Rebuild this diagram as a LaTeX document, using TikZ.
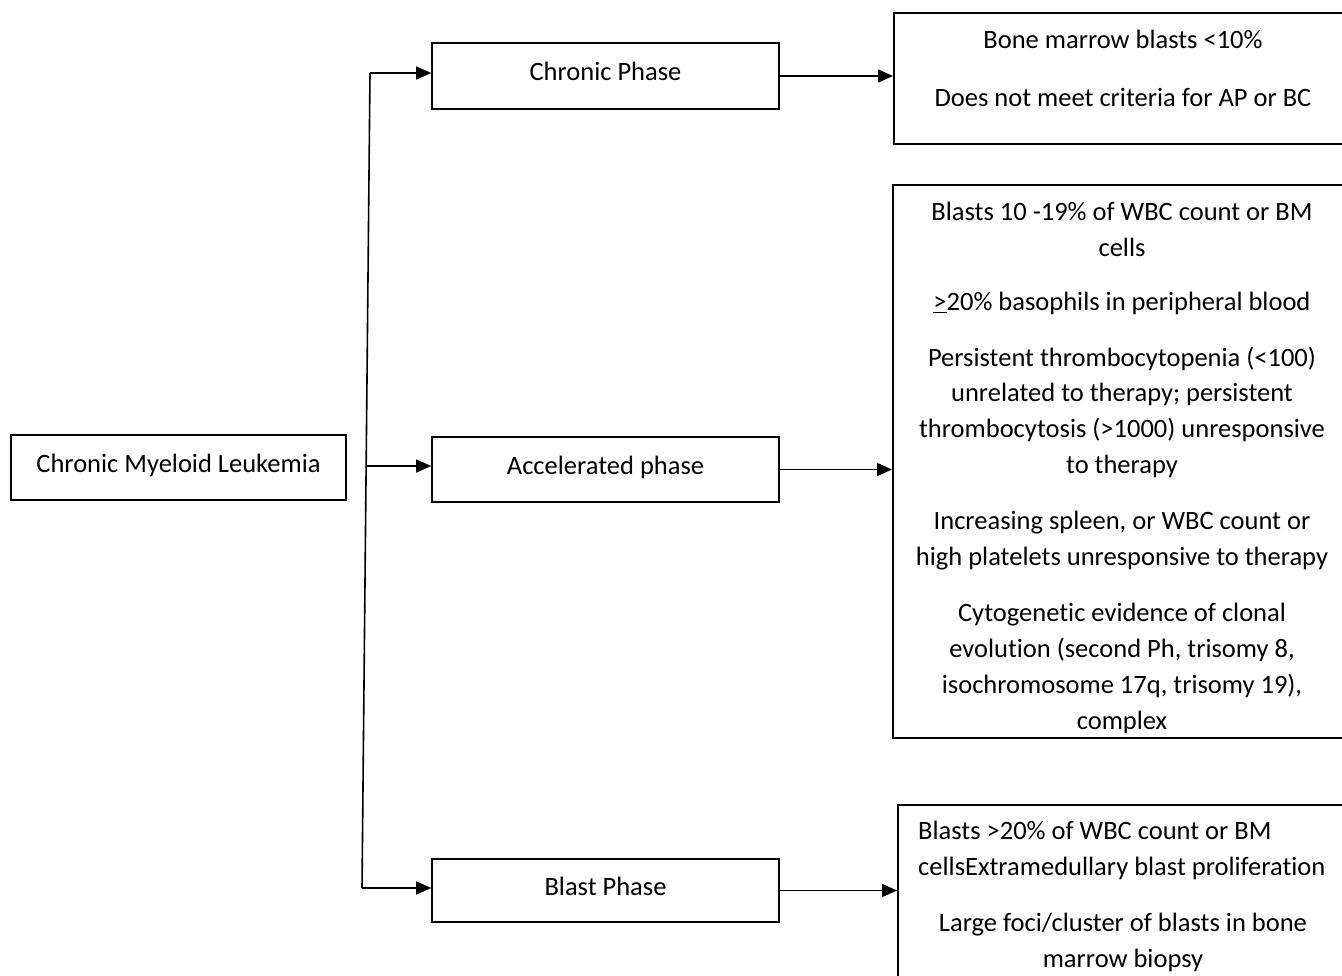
\documentclass[tikz,border=0pt]{standalone}
\usepackage{fontspec}
\setmainfont{Carlito}[Ligatures=NoCommon]
\usetikzlibrary{arrows.meta}

\tikzset{
  box/.style={draw=black, line width=1.6pt, rectangle, inner sep=0pt},
  phasebox/.style={box, minimum width=347pt, minimum height=65pt,
    text height=17pt, text depth=8pt},
  txt/.style={font=\fontsize{26.5}{35.8}\selectfont, inner sep=0pt, align=center, anchor=base},
  link/.style={line width=1.6pt},
  arr/.style={line width=1.6pt, -{Triangle[length=15pt,width=13pt]}}
}

\begin{document}
\begin{tikzpicture}[x=1pt,y=-1pt, font=\fontsize{26.5}{35.8}\selectfont]
\useasboundingbox (0,0) rectangle (1342,976);
\clip (0,0) rectangle (1342,976);

% root and the three phases
\node[phasebox, minimum width=335pt] (cml) at (178.5,467.5) {Chronic Myeloid Leukemia};
\node[phasebox, minimum height=66pt] (cp) at (605.5,76) {Chronic Phase};
\node[phasebox] (ap) at (605.5,469.5) {Accelerated phase};
\node[phasebox, minimum height=63pt] (bp) at (605.5,890.5) {Blast Phase};

% criteria boxes (they run past the right edge of the page)
\node[box, anchor=north west, minimum width=470pt, minimum height=131pt] (r1) at (893,12) {};
\node[box, anchor=north west, minimum width=470pt, minimum height=553pt] (r2) at (892,184) {};
\node[box, anchor=north west, minimum width=470pt, minimum height=200pt] (r3) at (897,804) {};

% chronic phase criteria (anchored on the baseline of the last line)
\node[txt] (c1) at (1123,49) {Bone marrow blasts <10\%};
\node[txt] (c2) at (1123,107) {Does not meet criteria for AP or BC};

% accelerated phase criteria
\node[txt] (a1) at (1122,256.6) {Blasts 10 -19\% of WBC count or BM\\cells};
\node[txt] (a2) at (1122,311) {\underline{>}20\% basophils in peripheral blood};
\node[txt] (a3) at (1122,473.4) {Persistent thrombocytopenia (<100)\\unrelated to therapy; persistent\\thrombocytosis (>1000) unresponsive\\to therapy};
\node[txt] (a4) at (1122,565.2) {Increasing spleen, or WBC count or\\high platelets unresponsive to therapy};
% the last paragraph overflows its box and is cut at the border
\begin{scope}
  \clip (892,184) rectangle (1342,733);
  \node[txt] (a5) at (1122,729) {Cytogenetic evidence of clonal\\evolution (second Ph, trisomy 8,\\isochromosome 17q, trisomy 19),\\complex};
\end{scope}

% blast phase criteria
\node[txt, align=left, anchor=base west] (b1) at (918,875) {Blasts >20\% of WBC count or BM\\cellsExtramedullary blast proliferation};
\node[txt] (b2) at (1123,967) {Large foci/cluster of blasts in bone\\marrow biopsy};

% branching trunk
\coordinate (t1) at (370,73);
\coordinate (t2) at (366,466);
\coordinate (t3) at (362,888);
\draw[link] (t1) -- (t3);
\draw[arr] (t1) -- (t1 -| cp.west);
\draw[arr] (t2) -- (t2 -| ap.west);
\draw[arr] (t3) -- (t3 -| bp.west);

% phase to criteria
\draw[arr] (cp.east) -- (cp.east -| r1.west);
\draw[arr] (ap.east) -- (ap.east -| r2.west);
\draw[arr] (bp.east) -- (bp.east -| r3.west);
\end{tikzpicture}
\end{document}
